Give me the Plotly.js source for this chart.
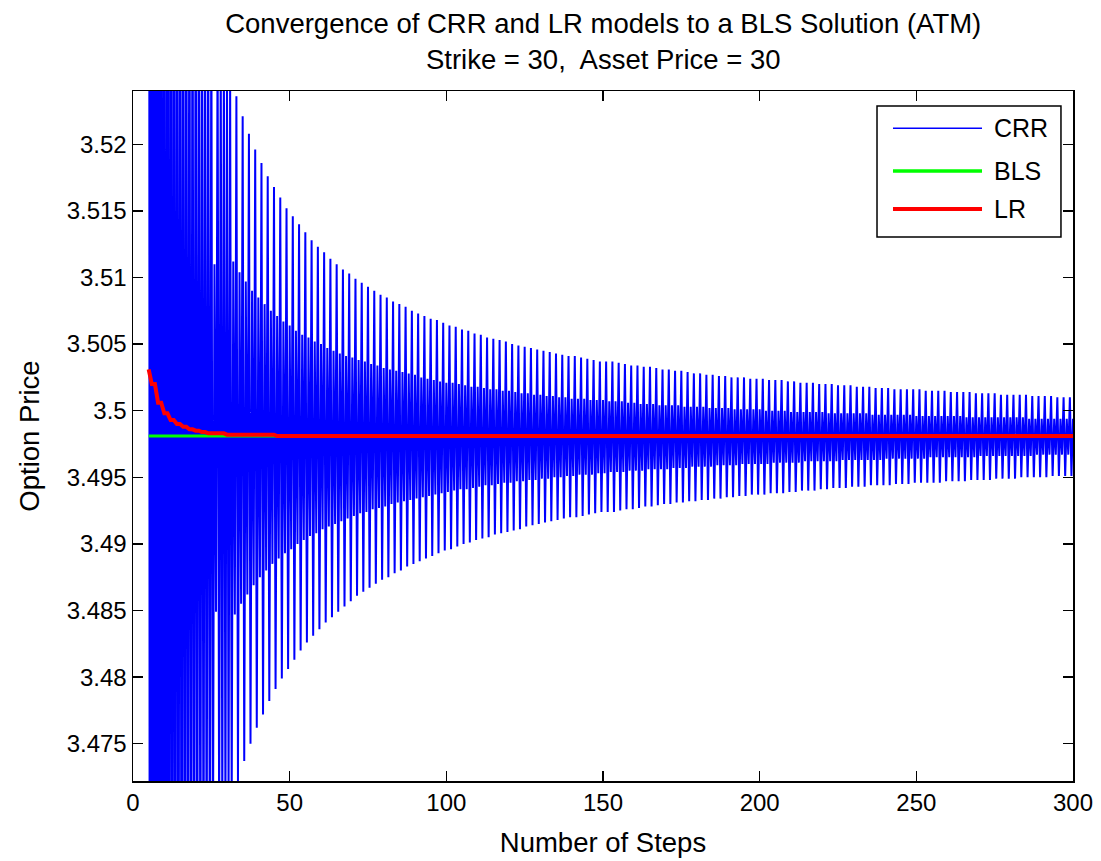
<!DOCTYPE html>
<html><head><meta charset="utf-8">
<script src="https://cdn.plot.ly/plotly-3.0.1.min.js"></script>
<style>html,body{margin:0;padding:0;background:#fff;}#chart{width:1101px;height:861px;}</style>
</head><body><div id="chart"></div>
<script>
// ---- data ----
const crrFirstStep = 5;
const lastStep = 300;
// CRR price, one value per cycle of the oscillation (cycle k starts at step 5 + 2k)
const crrHighOuter = [
3.6661,3.6181,3.5914,3.5745,3.5627,3.5541,3.5475,3.5423,3.5381,3.5346,
3.5317,3.5292,3.5271,3.5252,3.5236,3.5221,3.5208,3.5196,3.5186,3.5176,
3.5168,3.5160,3.5152,3.5146,3.5140,3.5134,3.5128,3.5123,3.5119,3.5114,
3.5110,3.5106,3.5103,3.5099,3.5096,3.5093,3.5090,3.5087,3.5085,3.5082,
3.5080,3.5078,3.5075,3.5073,3.5071,3.5069,3.5068,3.5066,3.5064,3.5063,
3.5061,3.5060,3.5058,3.5057,3.5055,3.5054,3.5053,3.5052,3.5050,3.5049,
3.5048,3.5047,3.5046,3.5045,3.5044,3.5043,3.5042,3.5041,3.5041,3.5040,
3.5039,3.5038,3.5037,3.5037,3.5037,3.5036,3.5035,3.5034,3.5034,3.5033,
3.5033,3.5032,3.5031,3.5031,3.5030,3.5030,3.5029,3.5028,3.5028,3.5027,
3.5027,3.5026,3.5026,3.5025,3.5025,3.5025,3.5024,3.5024,3.5024,3.5023,
3.5023,3.5023,3.5022,3.5022,3.5021,3.5021,3.5021,3.5020,3.5020,3.5020,
3.5019,3.5019,3.5019,3.5018,3.5018,3.5018,3.5017,3.5017,3.5017,3.5016,
3.5016,3.5016,3.5016,3.5016,3.5015,3.5015,3.5015,3.5015,3.5014,3.5014,
3.5014,3.5014,3.5013,3.5013,3.5013,3.5013,3.5012,3.5012,3.5012,3.5012,
3.5012,3.5011,3.5011,3.5011,3.5011,3.5010,3.5010,3.5010];
const crrLowOuter = [
3.3271,3.3760,3.4031,3.4204,3.4323,3.4411,3.4478,3.4531,3.4574,3.4609,
3.4639,3.4664,3.4686,3.4705,3.4722,3.4737,3.4750,3.4762,3.4772,3.4782,
3.4791,3.4799,3.4806,3.4813,3.4820,3.4826,3.4831,3.4836,3.4841,3.4845,
3.4849,3.4853,3.4857,3.4861,3.4864,3.4867,3.4870,3.4873,3.4875,3.4878,
3.4880,3.4883,3.4885,3.4887,3.4889,3.4891,3.4893,3.4895,3.4896,3.4898,
3.4900,3.4901,3.4903,3.4904,3.4905,3.4907,3.4908,3.4909,3.4910,3.4911,
3.4913,3.4914,3.4915,3.4916,3.4917,3.4918,3.4919,3.4920,3.4920,3.4921,
3.4922,3.4923,3.4924,3.4924,3.4924,3.4925,3.4926,3.4926,3.4927,3.4928,
3.4928,3.4929,3.4930,3.4930,3.4931,3.4931,3.4932,3.4932,3.4933,3.4933,
3.4934,3.4934,3.4935,3.4935,3.4936,3.4936,3.4937,3.4937,3.4937,3.4938,
3.4938,3.4938,3.4939,3.4939,3.4940,3.4940,3.4940,3.4941,3.4941,3.4942,
3.4942,3.4942,3.4943,3.4943,3.4943,3.4944,3.4944,3.4944,3.4944,3.4945,
3.4945,3.4945,3.4946,3.4946,3.4946,3.4946,3.4946,3.4947,3.4947,3.4947,
3.4947,3.4948,3.4948,3.4948,3.4948,3.4949,3.4949,3.4949,3.4949,3.4950,
3.4950,3.4950,3.4950,3.4950,3.4951,3.4951,3.4951,3.4951];
const crrHighInner = [
3.6581,3.6124,3.5870,3.5708,3.5596,3.5514,3.5452,3.5402,3.5362,3.5329,
3.5110,3.5277,3.5257,3.5112,3.5104,3.5097,3.5090,3.5085,3.5080,3.5075,
3.5071,3.5067,3.5064,3.5060,3.5057,3.5055,3.5052,3.5050,3.5047,3.5045,
3.5043,3.5041,3.5040,3.5038,3.5037,3.5035,3.5034,3.5032,3.5031,3.5030,
3.5029,3.5028,3.5027,3.5025,3.5024,3.5023,3.5022,3.5021,3.5021,3.5020,
3.5019,3.5018,3.5018,3.5017,3.5016,3.5016,3.5015,3.5015,3.5014,3.5013,
3.5013,3.5012,3.5012,3.5011,3.5011,3.5010,3.5010,3.5009,3.5009,3.5009,
3.5008,3.5008,3.5008,3.5007,3.5007,3.5007,3.5006,3.5006,3.5005,3.5005,
3.5005,3.5004,3.5004,3.5004,3.5004,3.5003,3.5003,3.5003,3.5003,3.5002,
3.5002,3.5002,3.5002,3.5001,3.5001,3.5001,3.5001,3.5001,3.5000,3.5000,
3.5000,3.5000,3.4999,3.4999,3.4999,3.4999,3.4999,3.4999,3.4998,3.4998,
3.4998,3.4998,3.4998,3.4998,3.4998,3.4997,3.4997,3.4997,3.4997,3.4997,
3.4997,3.4997,3.4996,3.4996,3.4996,3.4996,3.4996,3.4996,3.4996,3.4996,
3.4995,3.4995,3.4995,3.4995,3.4995,3.4995,3.4995,3.4995,3.4995,3.4995,
3.4994,3.4994,3.4994,3.4994,3.4994,3.4994,3.4994,3.4994];
const crrLowInner = [
3.3381,3.3838,3.4092,3.4254,3.4366,3.4448,3.4510,3.4560,3.4600,3.4633,
3.4849,3.4685,3.4705,3.4847,3.4855,3.4862,3.4869,3.4875,3.4880,3.4885,
3.4889,3.4893,3.4896,3.4900,3.4903,3.4906,3.4908,3.4911,3.4913,3.4915,
3.4917,3.4919,3.4921,3.4923,3.4924,3.4926,3.4927,3.4928,3.4930,3.4931,
3.4932,3.4933,3.4934,3.4935,3.4936,3.4937,3.4938,3.4939,3.4940,3.4941,
3.4941,3.4942,3.4943,3.4944,3.4944,3.4945,3.4946,3.4946,3.4947,3.4947,
3.4948,3.4948,3.4949,3.4949,3.4950,3.4950,3.4951,3.4951,3.4952,3.4952,
3.4952,3.4953,3.4953,3.4954,3.4954,3.4954,3.4955,3.4955,3.4955,3.4956,
3.4956,3.4956,3.4956,3.4957,3.4957,3.4957,3.4958,3.4958,3.4958,3.4958,
3.4959,3.4959,3.4959,3.4959,3.4960,3.4960,3.4960,3.4960,3.4960,3.4961,
3.4961,3.4961,3.4961,3.4961,3.4962,3.4962,3.4962,3.4962,3.4962,3.4962,
3.4963,3.4963,3.4963,3.4963,3.4963,3.4963,3.4963,3.4964,3.4964,3.4964,
3.4964,3.4964,3.4964,3.4964,3.4965,3.4965,3.4965,3.4965,3.4965,3.4965,
3.4965,3.4965,3.4966,3.4966,3.4966,3.4966,3.4966,3.4966,3.4966,3.4966,
3.4966,3.4967,3.4967,3.4967,3.4967,3.4967,3.4967];
// LR price at odd step counts 5, 7, ..., 299 (even counts use the next odd tree)
const lrOddPrice = [
3.5031,3.5020,3.5006,3.4998,3.4993,3.4990,3.4988,3.4986,3.4985,3.4984,
3.4983,3.4983,3.4983,3.4982,3.4982,3.4982,3.4982,3.4982,3.4982,3.4982,
3.4982,3.4981,3.4981,3.4981,3.4981,3.4981,3.4981,3.4981,3.4981,3.4981,
3.4981,3.4981,3.4981,3.4981,3.4981,3.4981,3.4981,3.4981,3.4981,3.4981,
3.4981,3.4981,3.4981,3.4981,3.4981,3.4981,3.4981,3.4981,3.4981,3.4981,
3.4981,3.4981,3.4981,3.4981,3.4981,3.4981,3.4981,3.4981,3.4981,3.4981,
3.4981,3.4981,3.4981,3.4981,3.4981,3.4981,3.4981,3.4981,3.4981,3.4981,
3.4981,3.4981,3.4981,3.4981,3.4981,3.4981,3.4981,3.4981,3.4981,3.4981,
3.4981,3.4981,3.4981,3.4981,3.4981,3.4981,3.4981,3.4981,3.4981,3.4981,
3.4981,3.4981,3.4981,3.4981,3.4981,3.4981,3.4981,3.4981,3.4981,3.4981,
3.4981,3.4981,3.4981,3.4981,3.4981,3.4981,3.4981,3.4981,3.4981,3.4981,
3.4981,3.4981,3.4981,3.4981,3.4981,3.4981,3.4981,3.4981,3.4981,3.4981,
3.4981,3.4981,3.4981,3.4981,3.4981,3.4981,3.4981,3.4981,3.4981,3.4981,
3.4981,3.4981,3.4981,3.4981,3.4981,3.4981,3.4981,3.4981,3.4981,3.4981,
3.4981,3.4981,3.4981,3.4981,3.4981,3.4981,3.4981,3.4981];
const blsPrice = 3.4981;
const seriesNames = ['CRR', 'BLS', 'LR'];
const xTickValues = [0, 50, 100, 150, 200, 250, 300];
const yTickValues = [3.475, 3.48, 3.485, 3.49, 3.495, 3.5, 3.505, 3.51, 3.515, 3.52];
const yTickLabels = ['3.475', '3.48', '3.485', '3.49', '3.495', '3.5', '3.505', '3.51', '3.515', '3.52'];
const chartTitle = 'Convergence of CRR and LR models to a BLS Solution (ATM)<br>Strike = 30,\u00a0 Asset Price = 30';

// ---- build trace arrays ----
const crrX = [], crrY = [];
for (let k = 0; k < crrHighOuter.length; k++) {
  const n = crrFirstStep + 2 * k;
  const cycle = [[n, crrHighOuter[k]], [n + 0.5, crrLowOuter[k]], [n + 1, crrHighInner[k]], [n + 1.5, crrLowInner[k]]];
  for (const [x, y] of cycle) {
    if (x <= lastStep && y !== undefined) { crrX.push(x); crrY.push(y); }
  }
}
const lrX = [], lrY = [];
for (let s = crrFirstStep; s <= lastStep; s++) {
  const odd = (s % 2 === 1) ? s : s + 1;
  const idx = Math.min((odd - crrFirstStep) / 2, lrOddPrice.length - 1);
  lrX.push(s); lrY.push(lrOddPrice[idx]);
}
const blsX = [crrFirstStep, lastStep];
const blsY = [blsPrice, blsPrice];

const colors = ['#0000ff', '#00ff00', '#ff0000'];
const widths = [2, 3, 4];
const FONT = 'Liberation Sans, Arial, Helvetica, sans-serif';

const traces = [
  {x: crrX, y: crrY, name: seriesNames[0], mode: 'lines', line: {color: colors[0], width: widths[0], simplify: false}, showlegend: false},
  {x: blsX, y: blsY, name: seriesNames[1], mode: 'lines', line: {color: colors[1], width: widths[1]}, showlegend: false},
  {x: lrX, y: lrY, name: seriesNames[2], mode: 'lines', line: {color: colors[2], width: widths[2], simplify: false}, showlegend: false}
];

// legend box drawn as shapes + text (MATLAB style with long line samples)
const legX0 = 0.7915, legX1 = 0.9872, legY0 = 0.7884, legY1 = 0.9783;
const legRows = [0.9459, 0.8841, 0.8290];
const legWidths = [1.5, 3.5, 4];
const shapes = [{type: 'rect', xref: 'paper', yref: 'paper', x0: legX0, x1: legX1, y0: legY0, y1: legY1,
  line: {color: '#000', width: 1.5}, fillcolor: '#fff', layer: 'above'}];
const annotations = [];
seriesNames.forEach((nm, i) => {
  shapes.push({type: 'line', xref: 'paper', yref: 'paper', x0: 0.8085, x1: 0.9032, y0: legRows[i], y1: legRows[i],
    line: {color: colors[i], width: legWidths[i]}, layer: 'above'});
  annotations.push({xref: 'paper', yref: 'paper', x: 0.9140, y: legRows[i], xanchor: 'left', yanchor: 'middle',
    text: nm, showarrow: false, font: {family: FONT, size: 25, color: '#000'}});
});

const axisCommon = {
  showgrid: false, zeroline: false, showline: true, linecolor: '#000', linewidth: 1.5,
  mirror: 'ticks', ticks: 'inside', ticklen: 10, tickwidth: 1.5, tickcolor: '#000',
  tickfont: {family: FONT, size: 24, color: '#000'}
};

const layout = {
  width: 1101, height: 861,
  margin: {l: 133, r: 28, t: 91, b: 80},
  paper_bgcolor: '#fff', plot_bgcolor: '#fff',
  showlegend: false,
  title: {text: chartTitle, font: {family: FONT, size: 27.5, color: '#000'}, x: 0.5479, xanchor: 'center',
    y: 0.9615, yanchor: 'top', yref: 'container'},
  xaxis: Object.assign({}, axisCommon, {range: [0, 300], tickvals: xTickValues,
    title: {text: 'Number of Steps', font: {family: FONT, size: 27.5, color: '#000'}, standoff: 17}}),
  yaxis: Object.assign({}, axisCommon, {range: [3.4722, 3.5240], tickvals: yTickValues, ticktext: yTickLabels,
    title: {text: 'Option Price', font: {family: FONT, size: 27.5, color: '#000'}, standoff: 19}}),
  shapes: shapes,
  annotations: annotations
};

Plotly.newPlot('chart', traces, layout, {staticPlot: true, displayModeBar: false});
</script>
</body></html>
